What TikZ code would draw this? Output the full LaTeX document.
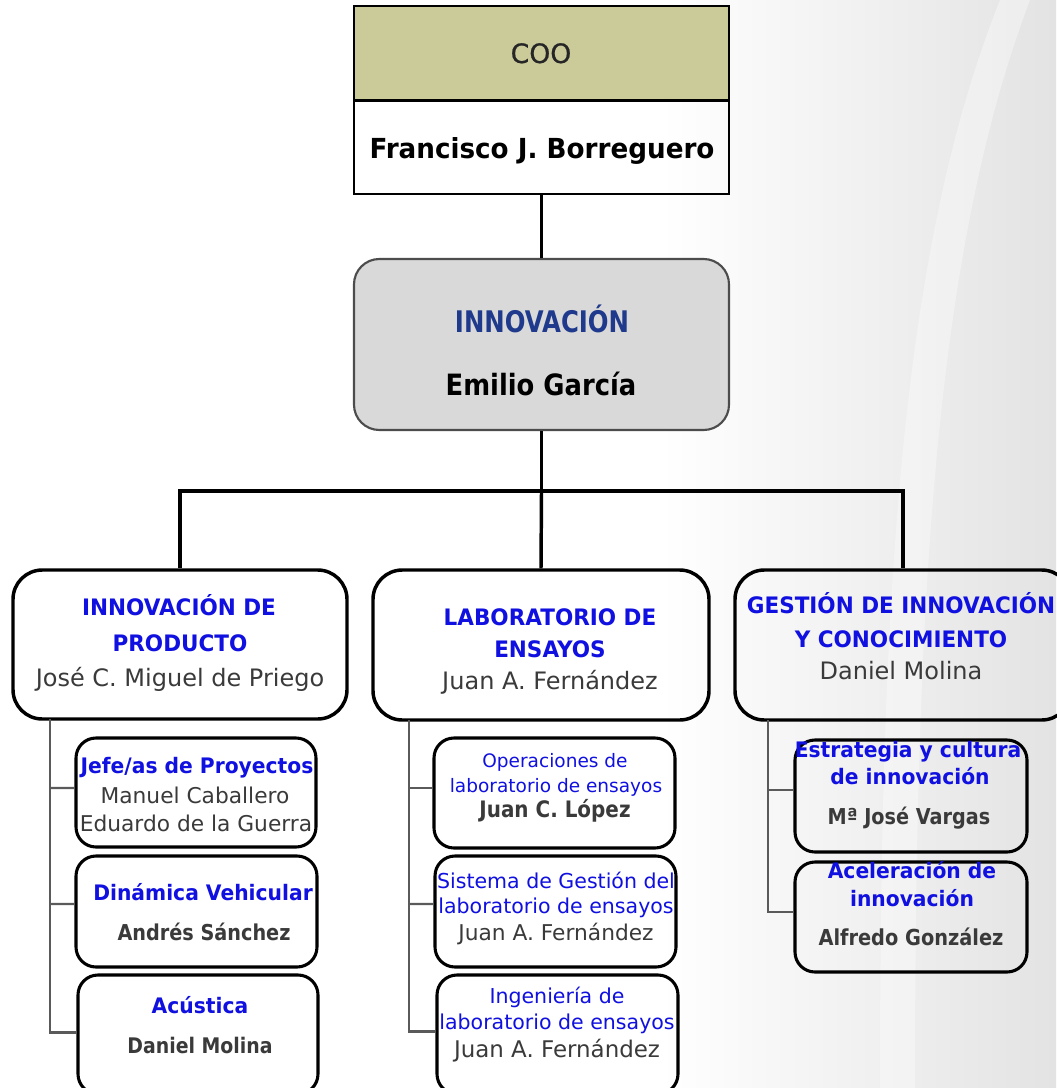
\documentclass[tikz,border=0pt]{standalone}
\usepackage{fontspec}
\setmainfont{DejaVu Sans}
\newfontfamily\bd{DejaVu Sans}[FakeStretch=0.95]
\newfontfamily\bdc{DejaVu Sans}[FakeStretch=0.88]
\newfontfamily\bdn{DejaVu Sans}[FakeStretch=0.82]
\newfontfamily\med{DejaVu Sans}[FakeBold=0.8]
\usetikzlibrary{fit,calc}
\definecolor{cooolive}{HTML}{CBCB9A}
\definecolor{innfill}{HTML}{D9D9D9}
\definecolor{navyhd}{HTML}{1F3A8C}
\definecolor{headblue}{HTML}{1010E0}
\definecolor{namegray}{HTML}{3A3A3A}
\definecolor{tiegray}{HTML}{5A5A5A}
\begin{document}
\begin{tikzpicture}[x=0.75pt,y=-0.75pt,
  coobox/.style={draw=black, line width=1.7pt, inner sep=0pt},
  innbox/.style={draw=black!70, fill=innfill, line width=1.6pt, rounded corners=19pt, inner sep=0pt},
  deptbox/.style={draw=black, line width=2.6pt, rounded corners=22pt, inner sep=0pt},
  subbox/.style={draw=black, line width=2.3pt, rounded corners=15pt, inner sep=0pt},
  bus/.style={draw=black, line width=2.6pt},
  tie/.style={draw=tiegray, line width=1.7pt},
  txt/.style={anchor=base, inner sep=0pt},
  top/.style={txt, font=\bd\bfseries\fontsize{20.7}{24}\selectfont},
  hd/.style={txt, text=headblue, font=\bd\bfseries\fontsize{17}{21}\selectfont},
  nm/.style={txt, text=namegray, font=\fontsize{18}{21}\selectfont},
  shd/.style={txt, text=headblue, font=\bd\bfseries\fontsize{16}{18}\selectfont},
  shr/.style={txt, text=headblue, font=\fontsize{15.4}{18}\selectfont},
  snb/.style={txt, text=namegray, font=\bdc\bfseries\fontsize{16.4}{18}\selectfont},
  snr/.style={txt, text=namegray, font=\fontsize{16.3}{18}\selectfont}]
\useasboundingbox (0,0) rectangle (1056,1088);
% background
\fill[white] (0,0) rectangle (1056,1088);
\shade[left color=white, right color=black!11] (660,0) rectangle (1056,1088);
\fill[white, opacity=0.35] (1000,0) .. controls (900,250) and (880,600) .. (880,1088) -- (915,1088) .. controls (915,600) and (935,250) .. (1030,0) -- cycle;

% COO
\node[coobox, fill=cooolive, fit={(354,6)(729,100)}] (cootop) {};
\node[coobox, fit={(354,6)(729,194)}] (coo) {};
\draw[line width=1.7pt] (cootop.south west) -- (cootop.south east);
\node[txt, text=black!85, font=\med\fontsize{20}{24}\selectfont] (tcoo) at (541,63) {COO};
\node[top] (tfjb) at (542,158) {Francisco J. Borreguero};

% Innovacion
\node[innbox, fit={(354,259)(729,430)}] (inn) {};
\node[txt, text=navyhd, font=\bdn\bfseries\fontsize{22.3}{24}\selectfont] (tinn) at (542,332) {INNOVACIÓN};
\node[txt, font=\bdc\bfseries\fontsize{22}{24}\selectfont] (teg) at (541,395) {Emilio García};

\draw[line width=1.6pt] (coo.south) -- (inn.north);

% departments
\node[deptbox, fit={(13,570)(347,719)}] (A) {};
\node[deptbox, fit={(373,570)(709,720)}] (B) {};
\node[deptbox, fit={(735,570)(1071,720)}] (C) {};

\coordinate (busm) at (inn.south |- 0,491);
\draw[bus] (inn.south) -- (busm);
\draw[bus] (A.north) -- (A.north |- busm) -- (C.north |- busm) -- (C.north);
\draw[bus] (busm) -- (B.north);

\node[hd] (tA1) at (179,615) {INNOVACIÓN DE};
\node[hd] (tA2) at (180,651) {PRODUCTO};
\node[nm] (tA3) at (180,686) {José C. Miguel de Priego};

\node[hd] (tB1) at (550,625) {LABORATORIO DE};
\node[hd] (tB2) at (550,657) {ENSAYOS};
\node[nm] (tB3) at (550,689) {Juan A. Fernández};

\node[hd] (tC1) at (901,613) {GESTIÓN DE INNOVACIÓN};
\node[hd] (tC2) at (901,647) {Y CONOCIMIENTO};
\node[nm] (tC3) at (901,679) {Daniel Molina};

% sub boxes column A
\node[subbox, fit={(76,738)(316,847)}] (A1) {};
\node[subbox, fit={(76,856)(317,967)}] (A2) {};
\node[subbox, fit={(78,975)(318,1094)}] (A3) {};
\coordinate (As) at (50,719);
\draw[tie] (As) |- ([yshift=1.5pt]A3.west);
\draw[tie] (As |- A1.west) ++(0,-4.5) -- ([yshift=3.4pt]A1.west);
\draw[tie] (As |- A2.west) ++(0,-7.5) -- ([yshift=5.6pt]A2.west);

\node[shd] (a11) at (197,773) {Jefe/as de Proyectos};
\node[snr] (a12) at (195,803) {Manuel Caballero};
\node[snr] (a13) at (196,831) {Eduardo de la Guerra};
\node[shd] (a21) at (203,900) {Dinámica Vehicular};
\node[snb] (a22) at (204,940) {Andrés Sánchez};
\node[shd] (a31) at (200,1013) {Acústica};
\node[snb, font=\bdc\bfseries\fontsize{16.1}{18}\selectfont] (a32) at (200,1053) {Daniel Molina};

% sub boxes column B
\node[subbox, fit={(434,738)(675,848)}] (B1) {};
\node[subbox, fit={(435,856)(676,967)}] (B2) {};
\node[subbox, fit={(437,975)(678,1094)}] (B3) {};
\coordinate (Bs) at (409,720);
\draw[tie] (Bs) |- ([yshift=2.3pt]B3.west);
\draw[tie] (Bs |- B1.west) ++(0,-5) -- ([yshift=3.75pt]B1.west);
\draw[tie] (Bs |- B2.west) ++(0,-7.5) -- ([yshift=5.6pt]B2.west);

\node[shr, font=\fontsize{13.9}{18}\selectfont] (b11) at (555,767) {Operaciones de};
\node[shr, font=\fontsize{13.9}{18}\selectfont] (b12) at (556,792) {laboratorio de ensayos};
\node[snb, font=\bdc\bfseries\fontsize{17}{18}\selectfont] (b13) at (555,817) {Juan C. López};
\node[shr] (b21) at (556,888) {Sistema de Gestión del};
\node[shr] (b22) at (556,913) {laboratorio de ensayos};
\node[snr] (b23) at (556,940) {Juan A. Fernández};
\node[shr] (b31) at (557,1003) {Ingeniería de};
\node[shr] (b32) at (557,1029) {laboratorio de ensayos};
\node[snr, font=\fontsize{17.2}{18}\selectfont] (b33) at (557,1057) {Juan A. Fernández};

% sub boxes column C
\node[subbox, fit={(795,740)(1027,852)}] (C1) {};
\node[subbox, fit={(795,862)(1027,972)}] (C2) {};
\coordinate (Cs) at (768,720);
\draw[tie] (Cs) |- ([yshift=3.75pt]C2.west);
\draw[tie] (Cs |- C1.west) ++(0,-6) -- ([yshift=4.5pt]C1.west);

\node[shd] (c11) at (908,757) {Estrategia y cultura};
\node[shd] (c12) at (910,784) {de innovación};
\node[snb] (c13) at (909,824) {Mª José Vargas};
\node[shd] (c21) at (912,878) {Aceleración de};
\node[shd] (c22) at (912,906) {innovación};
\node[snb, font=\bdc\bfseries\fontsize{16.5}{18}\selectfont] (c23) at (911,945) {Alfredo González};
\end{tikzpicture}
\end{document}
